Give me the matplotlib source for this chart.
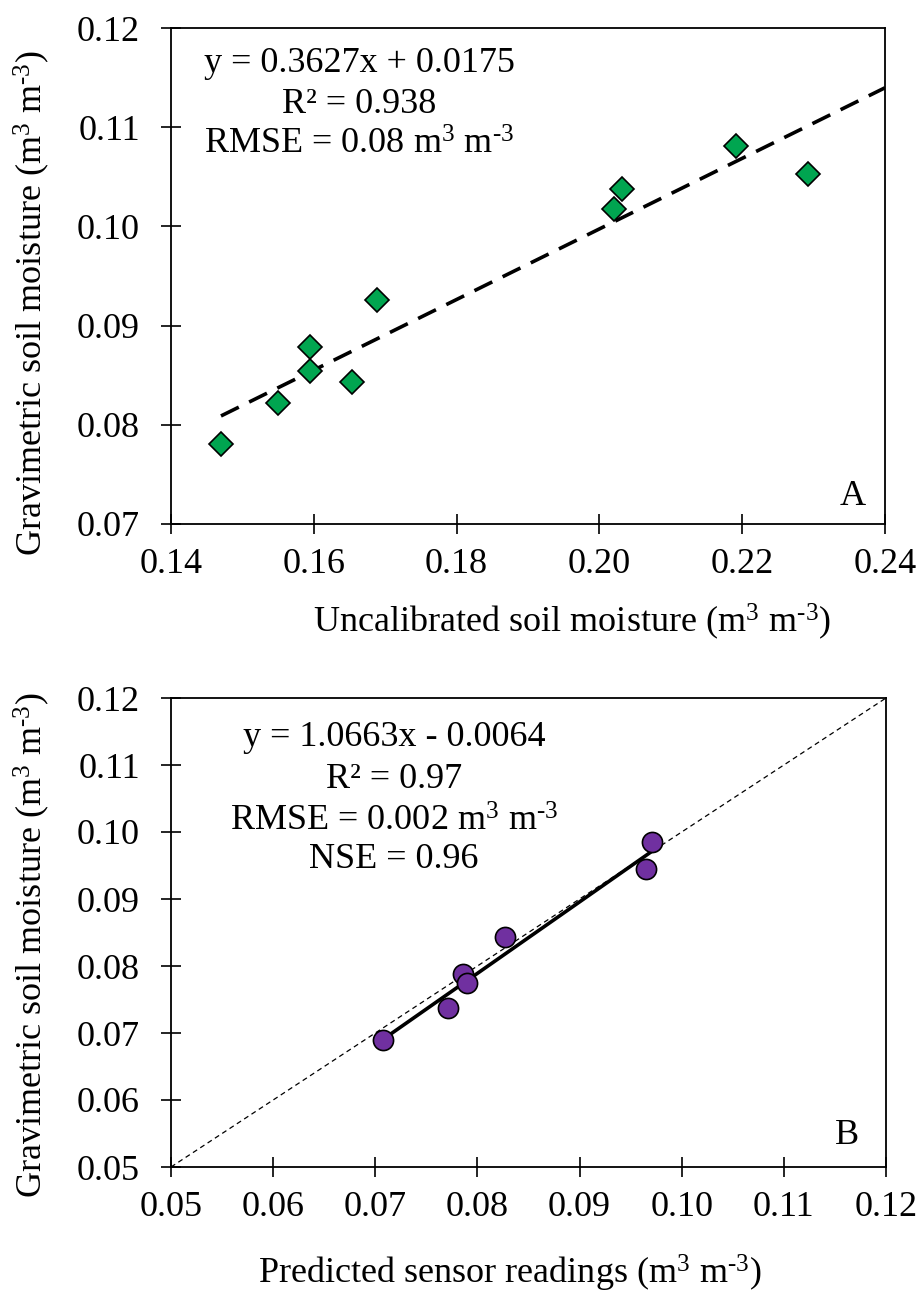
import numpy as np
import matplotlib
matplotlib.use("Agg")
import matplotlib.pyplot as plt

plt.rcParams['font.family'] = ['Liberation Serif', 'DejaVu Serif']
plt.rcParams['mathtext.fontset'] = 'custom'
plt.rcParams['mathtext.rm'] = 'Liberation Serif'
plt.rcParams['mathtext.it'] = 'Liberation Serif:italic'

# Panel A: uncalibrated sensor vs gravimetric soil moisture
uncal_x = [0.1470, 0.1550, 0.1595, 0.1595, 0.1654, 0.1688, 0.2020, 0.2031, 0.2192, 0.2292]
grav_a = [0.0781, 0.0822, 0.0878, 0.0854, 0.0843, 0.0926, 0.1018, 0.1038, 0.1081, 0.1053]
a_xticks = [0.14, 0.16, 0.18, 0.20, 0.22, 0.24]
a_yticks = [0.07, 0.08, 0.09, 0.10, 0.11, 0.12]

# Panel B: predicted sensor readings vs gravimetric soil moisture
pred_x = [0.0708, 0.0771, 0.0786, 0.0790, 0.0827, 0.0965, 0.0971]
grav_b = [0.0689, 0.0737, 0.0788, 0.0774, 0.0844, 0.0945, 0.0985]
b_slope, b_intercept = 1.0663, -0.0064
b_xticks = [0.05, 0.06, 0.07, 0.08, 0.09, 0.10, 0.11, 0.12]
b_yticks = [0.05, 0.06, 0.07, 0.08, 0.09, 0.10, 0.11, 0.12]

# volumetric unit, m3 m-3, with a plain hyphen in the exponent
unit = r"m$^{3}$ m$^{\text{-}3}$"

a_stats = ["y = 0.3627x + 0.0175", "R² = 0.938", "RMSE = 0.08 " + unit]
b_stats = ["y = 1.0663x - 0.0064", "R² = 0.97", "RMSE = 0.002 " + unit, "NSE = 0.96"]

FS = 26
W, H = 919, 1294

fig = plt.figure(figsize=(W / 100, H / 100), dpi=100)
axA = fig.add_axes([171 / W, 1 - 524 / H, 714 / W, 496 / H])
axB = fig.add_axes([171 / W, 1 - 1167 / H, 715 / W, 469 / H])


def style_axes(ax, xticks, yticks):
    for s in ax.spines.values():
        s.set_linewidth(1.3)
        s.set_color('black')
    ax.set_xticks(xticks)
    ax.set_yticks(yticks)
    ax.set_xticklabels([f"{t:.2f}" for t in xticks])
    ax.set_yticklabels([f"{t:.2f}" for t in yticks])
    ax.tick_params(axis='both', direction='inout', length=15, width=1.2,
                   labelsize=FS, top=False, right=False)
    ax.tick_params(axis='x', pad=10)
    ax.tick_params(axis='y', pad=15)
    ax.set_xlim(xticks[0], xticks[-1])
    ax.set_ylim(yticks[0], yticks[-1])


# ---- Panel A ----
style_axes(axA, a_xticks, a_yticks)
coef = np.polyfit(uncal_x, grav_a, 1)
fx = np.array([min(uncal_x), a_xticks[-1]])
axA.plot(fx, np.polyval(coef, fx), color='black', lw=2.6, ls=(0, (5.5, 3.2)), zorder=2)
axA.plot(uncal_x, grav_a, ls='none', marker='D', ms=12, mfc='#00A550',
         mec='black', mew=1.2, zorder=3)
for txt, yy in zip(a_stats, [0.929, 0.845, 0.764]):
    axA.text(0.264, yy, txt, transform=axA.transAxes, ha='center', va='center', fontsize=FS)
axA.text(0.955, 0.055, "A", transform=axA.transAxes, ha='center', va='center', fontsize=FS)
axA.set_xlabel("Uncalibrated soil moisture (" + unit + ")", fontsize=FS, va='center')
axA.xaxis.set_label_coords(0.561, -0.198)
axA.set_ylabel("Gravimetric soil moisture (" + unit + ")", fontsize=FS, va='center')
axA.yaxis.set_label_coords(-0.195, 0.446)

# ---- Panel B ----
style_axes(axB, b_xticks, b_yticks)
axB.plot([b_xticks[0], b_xticks[-1]], [b_yticks[0], b_yticks[-1]], color='black',
         lw=0.9, ls=(0, (4, 3)), zorder=1)
bx = np.array([min(pred_x), max(pred_x)])
axB.plot(bx, b_slope * bx + b_intercept, color='black', lw=2.6, zorder=2)
axB.plot(pred_x, grav_b, ls='none', marker='o', ms=14.5, mfc='#7030A0',
         mec='black', mew=1.2, zorder=3)
for txt, yy in zip(b_stats, [0.915, 0.827, 0.736, 0.655]):
    axB.text(0.312, yy, txt, transform=axB.transAxes, ha='center', va='center', fontsize=FS)
axB.text(0.945, 0.068, "B", transform=axB.transAxes, ha='center', va='center', fontsize=FS)
axB.set_xlabel("Predicted sensor readings (" + unit + ")", fontsize=FS, va='center')
axB.xaxis.set_label_coords(0.474, -0.226)
axB.set_ylabel("Gravimetric soil moisture (" + unit + ")", fontsize=FS, va='center')
axB.yaxis.set_label_coords(-0.195, 0.473)

fig.savefig("out.png", dpi=100, facecolor='white')
